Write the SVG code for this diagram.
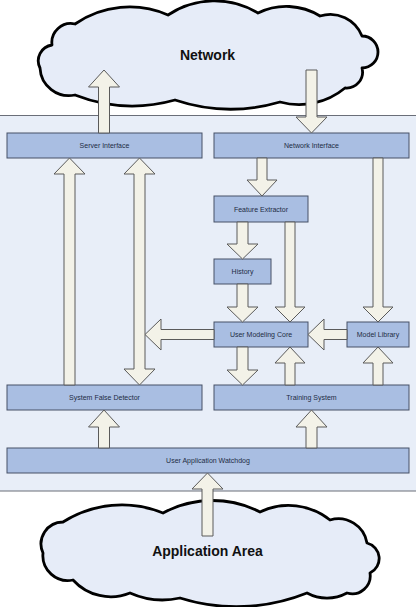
<svg xmlns="http://www.w3.org/2000/svg" width="416" height="607" viewBox="0 0 416 607">
<style>
.panel{fill:#e8eef8;stroke:#6a6e78;stroke-width:1}
.cloud{fill:#e6ecf8;stroke:#000;stroke-width:2.8;stroke-linejoin:round}
.box{fill:#a9bee2;stroke:#465066;stroke-width:1}
.arr{fill:#f3f2e8;stroke:#5a5a5a;stroke-width:1;stroke-linejoin:miter}
.lbl{font-family:"Liberation Sans",Arial,sans-serif;font-size:7px;fill:#222c44;text-anchor:middle}
.big{font-family:"Liberation Sans",Arial,sans-serif;font-size:14px;font-weight:bold;fill:#111;text-anchor:middle}
</style>
<rect width="416" height="607" fill="#ffffff"/>
<rect class="panel" x="-2" y="115.5" width="430" height="375.5"/>
<g id="network">
<path class="cloud" d="M40 68 A16 16 0 0 1 52 45 A19 19 0 0 1 75 24 A96 96 0 0 1 168 15 A84 84 0 0 1 258 13 A64 64 0 0 1 320 16 A34 34 0 0 1 362 36 A16 16 0 0 1 362 68 A16 16 0 0 1 345 88 A72 72 0 0 1 280 102 A176 176 0 0 1 175 100 A158 158 0 0 1 75 95 A29 29 0 0 1 40 68 Z"/>
<text class="big" x="207.5" y="60">Network</text>
</g>
<g id="application-area">
<path class="cloud" d="M63 522 A110 110 0 0 1 163 513 A104 104 0 0 1 260 512 A66 66 0 0 1 330 520 A29 29 0 0 1 367 543 A16 16 0 0 1 370 573 A18 18 0 0 1 347 593 A42 42 0 0 1 307 593 A189 189 0 0 1 180 598 A80 80 0 0 1 130 593 A51 51 0 0 1 73 580 A25 25 0 0 1 43 553 A22 22 0 0 1 63 522 Z"/>
<text class="big" x="207.5" y="556">Application Area</text>
</g>
<g id="server-interface"><rect class="box" x="7" y="133" width="195" height="25"/><text class="lbl" x="104.5" y="148">Server Interface</text></g>
<g id="network-interface"><rect class="box" x="214" y="133" width="195" height="25"/><text class="lbl" x="311.5" y="148">Network Interface</text></g>
<g id="feature-extractor"><rect class="box" x="214" y="196" width="94" height="26"/><text class="lbl" x="261" y="211.5">Feature Extractor</text></g>
<g id="history"><rect class="box" x="214" y="259" width="57" height="25"/><text class="lbl" x="242.5" y="274">History</text></g>
<g id="user-modeling-core"><rect class="box" x="214" y="322" width="94" height="25"/><text class="lbl" x="261" y="337">User Modeling Core</text></g>
<g id="model-library"><rect class="box" x="347" y="322" width="62" height="25"/><text class="lbl" x="378" y="337">Model Library</text></g>
<g id="system-false-detector"><rect class="box" x="7" y="385" width="195" height="25"/><text class="lbl" x="104.5" y="400">System False Detector</text></g>
<g id="training-system"><rect class="box" x="214" y="385" width="195" height="25"/><text class="lbl" x="311.5" y="400">Training System</text></g>
<g id="user-application-watchdog"><rect class="box" x="7" y="448" width="402" height="25"/><text class="lbl" x="208" y="463">User Application Watchdog</text></g>
<g id="connectors">
<polygon class="arr" points="104,70 119.5,87 109.5,87 109.5,133 98.5,133 98.5,87 88.5,87"/>
<polygon class="arr" points="306,70 317,70 317,117 327,117 311.5,133 296,117 306,117"/>
<polygon class="arr" points="69.5,158 85,174 75,174 75,385 64,385 64,174 54,174"/>
<polygon class="arr" points="139.5,158 155,174 145,174 145,369 155,369 139.5,385 124,369 134,369 134,174 124,174"/>
<polygon class="arr" points="257,158 267,158 267,180 277,180 262,196 247,180 257,180"/>
<polygon class="arr" points="373,158 383,158 383,307 393,307 378,322 363,307 373,307"/>
<polygon class="arr" points="237,222 248,222 248,244 258,244 242.5,259 227,244 237,244"/>
<polygon class="arr" points="237,284 248,284 248,307 258,307 242.5,322 227,307 237,307"/>
<polygon class="arr" points="285,222 295,222 295,307 305,307 290,322 275,307 285,307"/>
<polygon class="arr" points="308,334.5 324,319 324,329.5 347,329.5 347,339.5 324,339.5 324,350"/>
<polygon class="arr" points="145,334.5 161,319 161,329.5 214,329.5 214,339.5 161,339.5 161,350"/>
<polygon class="arr" points="237,347 248,347 248,370 258,370 242.5,385 227,370 237,370"/>
<polygon class="arr" points="290,347 305,363 295,363 295,385 285,385 285,363 275,363"/>
<polygon class="arr" points="378,347 393,363 383,363 383,385 373,385 373,363 363,363"/>
<polygon class="arr" points="104,410 119.5,427 109.5,427 109.5,448 98.5,448 98.5,427 88.5,427"/>
<polygon class="arr" points="311.5,410 327,427 317,427 317,448 306,448 306,427 296,427"/>
<polygon class="arr" points="207.5,473 223,489 213,489 213,536 202,536 202,489 192,489"/>
</g>
</svg>
